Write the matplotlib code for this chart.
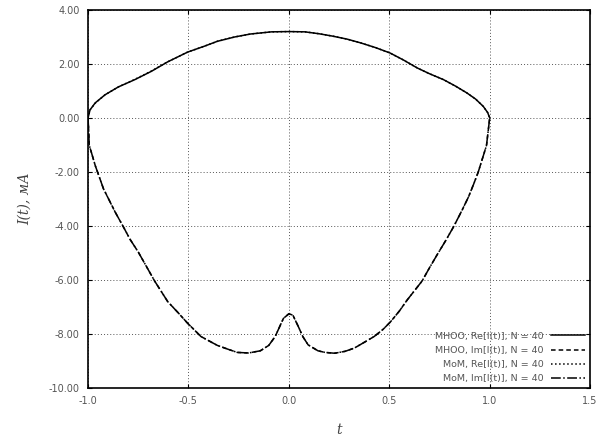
import numpy as np
import matplotlib.pyplot as plt

# Re[I(t)]
t_re = [-1.0, -0.99, -0.964, -0.915, -0.849, -0.767, -0.684, -0.603, -0.504,
        -0.42, -0.356, -0.27, -0.191, -0.086, 0.0, 0.08, 0.15, 0.219, 0.29,
        0.358, 0.43, 0.503, 0.57, 0.64, 0.7, 0.77, 0.83, 0.886, 0.93, 0.968,
        0.99, 1.0]
re_mhoo = [0.0, 0.3, 0.56, 0.86, 1.15, 1.42, 1.73, 2.08, 2.44,
           2.66, 2.84, 3.0, 3.11, 3.19, 3.2, 3.19, 3.12, 3.03, 2.92,
           2.78, 2.61, 2.41, 2.15, 1.85, 1.64, 1.42, 1.18, 0.93, 0.7, 0.43,
           0.2, 0.0]
re_mom = [0.0, 0.3, 0.55, 0.86, 1.15, 1.43, 1.74, 2.08, 2.44,
          2.66, 2.84, 3.0, 3.11, 3.19, 3.2, 3.19, 3.12, 3.03, 2.92,
          2.78, 2.61, 2.41, 2.15, 1.85, 1.64, 1.42, 1.18, 0.93, 0.7, 0.43,
          0.2, 0.0]

# Im[I(t)]
t_im = [-1.0, -0.997, -0.994, -0.964, -0.923, -0.865, -0.824, -0.79, -0.75,
        -0.668, -0.603, -0.55, -0.504, -0.47, -0.438, -0.356, -0.3, -0.257,
        -0.2, -0.142, -0.1, -0.068, -0.027, 0.0, 0.02, 0.047, 0.07, 0.096,
        0.145, 0.18, 0.228, 0.28, 0.326, 0.37, 0.425, 0.47, 0.507, 0.55,
        0.589, 0.663, 0.7, 0.737, 0.78, 0.82, 0.86, 0.894, 0.92, 0.943,
        0.984, 1.0]
im_mhoo = [0.0, -0.4, -1.0, -1.76, -2.62, -3.48, -4.03, -4.5, -4.96,
           -6.04, -6.8, -7.22, -7.6, -7.85, -8.09, -8.42, -8.57, -8.68,
           -8.7, -8.62, -8.42, -8.09, -7.42, -7.25, -7.3, -7.72, -8.1, -8.4,
           -8.62, -8.68, -8.71, -8.64, -8.52, -8.33, -8.09, -7.82, -7.54, -7.15,
           -6.74, -6.04, -5.55, -5.08, -4.55, -4.03, -3.45, -2.93, -2.45, -2.0,
           -1.02, 0.0]
im_mom = [0.0, -0.4, -1.0, -1.76, -2.62, -3.48, -4.03, -4.5, -4.96,
          -6.04, -6.8, -7.22, -7.6, -7.85, -8.09, -8.42, -8.57, -8.68,
          -8.7, -8.62, -8.42, -8.09, -7.42, -7.25, -7.3, -7.72, -8.1, -8.4,
          -8.62, -8.68, -8.71, -8.64, -8.52, -8.33, -8.09, -7.82, -7.54, -7.15,
          -6.74, -6.04, -5.55, -5.08, -4.55, -4.03, -3.45, -2.93, -2.45, -2.0,
          -1.02, 0.0]

labels = ['MHOO, Re[I(t)], N = 40', 'MHOO, Im[I(t)], N = 40',
          'MoM, Re[I(t)], N = 40', 'MoM, Im[I(t)], N = 40']

fig = plt.figure(figsize=(6.09, 4.43), dpi=100)
ax = fig.add_axes([0.1445, 0.124, 0.8245, 0.8535])

ax.plot(t_re, re_mhoo, 'k-', lw=1.1, label=labels[0])
ax.plot(t_im, im_mhoo, 'k--', lw=1.1, dashes=(3, 2), label=labels[1])
ax.plot(t_re, re_mom, 'k:', lw=1.1, label=labels[2])
ax.plot(t_im, im_mom, 'k-.', lw=1.1, label=labels[3])

ax.set_xlim(-1.0, 1.5)
ax.set_ylim(-10, 4)
ax.set_xticks(np.arange(-1.0, 1.51, 0.5))
ax.set_yticks(np.arange(-10, 4.01, 2))
ax.set_xticklabels(['%.1f' % v for v in np.arange(-1.0, 1.51, 0.5)])
ax.set_yticklabels(['%.2f' % v for v in np.arange(-10, 4.01, 2)])
ax.tick_params(direction='in', length=3, labelsize=7, labelcolor='#555555',
               top=True, right=True, pad=6)
ax.grid(True, ls=(0, (1, 2.2)), color='#555555', lw=0.7)
for s in ax.spines.values():
    s.set_linewidth(1.2)

ax.set_xlabel('t', fontsize=10, family='DejaVu Serif', style='italic',
              color='#444444', labelpad=12)
ax.set_ylabel('I(t), мА', fontsize=10, family='DejaVu Serif', style='italic',
              color='#444444', labelpad=12)

leg = ax.legend(loc='lower right', frameon=False, markerfirst=False,
                fontsize=6.8, handlelength=3.6, labelspacing=0.55,
                borderaxespad=0.1)
for txt in leg.get_texts():
    txt.set_color('#555555')

fig.savefig('out.png', dpi=100)
